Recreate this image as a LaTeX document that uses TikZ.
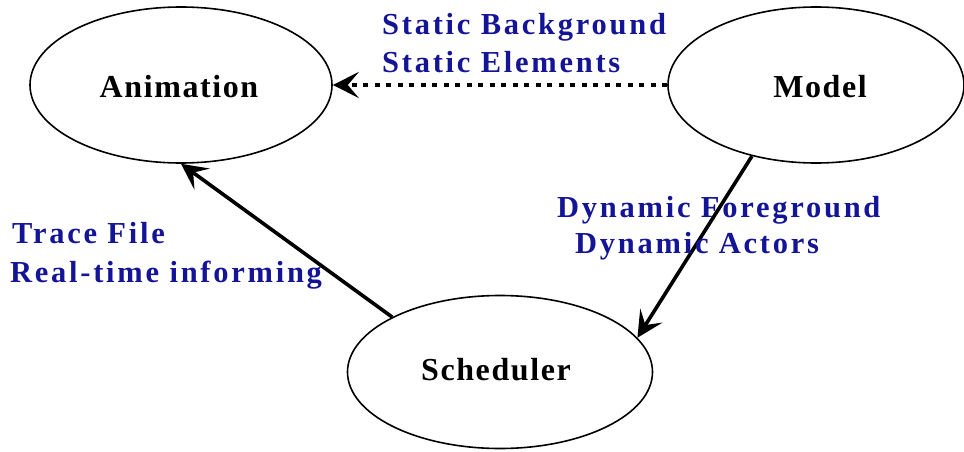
\documentclass[tikz,border=0pt]{standalone}
\usepackage{fontspec}
\setmainfont{Liberation Serif}
\newfontfamily\nodefont[LetterSpace=5]{Liberation Serif}
\newfontfamily\lblfont[LetterSpace=9]{Liberation Serif}
\usetikzlibrary{shapes.geometric,arrows.meta}
\definecolor{lblblue}{RGB}{20,20,150}
\begin{document}
\begin{tikzpicture}[x=1pt,y=-1pt,
  state/.style={draw=black,line width=1.6pt,ellipse,inner sep=0pt},
  stxt/.style={anchor=base,inner sep=0pt,
    font=\nodefont\bfseries\fontsize{32}{38}\selectfont},
  lbl/.style={anchor=base west,inner sep=0pt,text=lblblue,
    font=\lblfont\bfseries\fontsize{30.5}{36}\selectfont},
  tip/.style={-{Stealth[length=26pt,width=26pt,inset=11pt]}},
  conn/.style={line width=3.6pt,tip},
  dotconn/.style={line width=3.4pt,dash pattern=on 5pt off 6.5pt,tip}]
\useasboundingbox (0,0) rectangle (964,452);
\node[state,minimum width=302pt,minimum height=156pt] (anim) at (181,85) {};
\node[state,minimum width=296pt,minimum height=156pt] (model) at (816,85) {};
\node[state,minimum width=305pt,minimum height=153pt] (sched) at (500,372) {};
\node[stxt] (tanim) at (179,97) {Animation};
\node[stxt] (tmodel) at (820,97) {Model};
\node[stxt] (tsched) at (496,380) {Scheduler};
\draw[dotconn] (model.west) -- (anim.east);
\draw[conn] (sched.153) -- (anim.south);
\draw[conn] (model.228) -- (sched.14);
\node[lbl] (l1) at (382,35) {Static Background};
\node[lbl] (l2) at (382,73) {Static Elements};
\node[lbl] (l3) at (557,217) {Dynamic Foreground};
\node[lbl] (l4) at (575,253) {Dynamic Actors};
\node[lbl] (l5) at (12,243) {Trace File};
\node[lbl] (l6) at (10,282) {Real-time informing};
\end{tikzpicture}
\end{document}
